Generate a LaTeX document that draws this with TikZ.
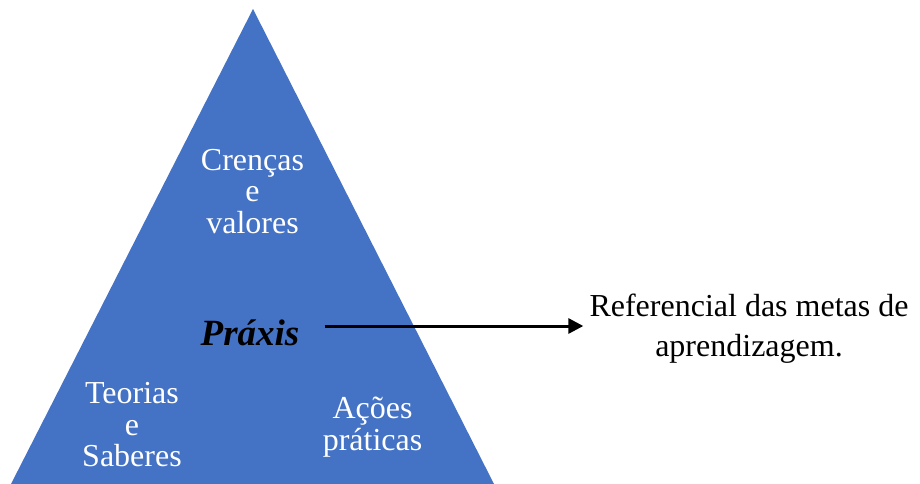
\documentclass[tikz,border=0pt]{standalone}
\usepackage{fontspec}
\setmainfont{Liberation Serif}
\usetikzlibrary{arrows.meta}
\definecolor{triblue}{RGB}{68,114,196}
\begin{document}
\begin{tikzpicture}[x=1pt,y=-1pt,
  lbl/.style={text=white,font=\fontsize{32}{31.5}\selectfont,align=center,inner sep=0pt,anchor=base},
  dark/.style={text=black,font=\fontsize{32}{40}\selectfont,align=center,inner sep=0pt,anchor=base},
  arrowline/.style={line width=3pt,-{Triangle[length=15pt,width=15pt]}}]
\useasboundingbox (0,0) rectangle (920,484);
\fill[triblue] (253,9) -- (494,484) -- (11,484) -- cycle;
\node[lbl] (crencas) at (252.5,233) {Crenças\\e\\valores};
\node[lbl] (teorias) at (132,466.5) {Teorias\\e\\Saberes};
\node[lbl] (acoes) at (372.5,450) {Ações\\práticas};
\node[inner sep=0pt,anchor=base,text height=38pt,text depth=0pt,font=\fontsize{37}{37}\selectfont\bfseries\itshape] (praxis) at (250,345) {Práxis};
\node[dark] (ref) at (749,356) {Referencial das metas de\\aprendizagem.};
\draw[arrowline,shorten <=25pt,shorten >=6pt] (praxis.east) -- (ref.west |- praxis.east);
\end{tikzpicture}
\end{document}
